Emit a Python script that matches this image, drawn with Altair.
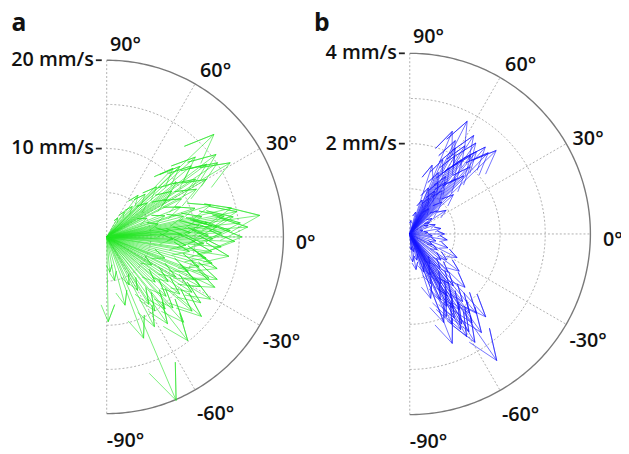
import altair as alt
import numpy as np
import pandas as pd

# ---------------- data (angle in degrees, magnitude in mm/s) ----------------
green_angle = [43.7, 31, 33.8, 46, 53, 36, 40, 38, 45, 50, 35, 42, 30, 55, 48, 28, 33, 60, 40,
               37, 32, 44, 27,
               17, 8, 0, 6, 3, -2, 10, 12, 5, -5, 1, -3, 15, 7, 2, -8, 20, 9, 4, -1, 14, 25, -10,
               -4, 2, 6, 11, -6, 3, 8, 13, -2, 5, 18, 22, -12, -16, -9,
               -21, -31, -25, -14, -41, -36, -18, -28, -33, -23, -38, -45, -52, -51, -48, -30, -20, -43, -55,
               -26, -35, -40, -22, -47, -57, -32, -60,
               -70, -89, -67, -62, -75, -58, -80, -85, -65]
green_mag = [16.8, 16.3, 15.1, 10.8, 5.9, 14.0, 12.5, 10.0, 8.0, 4.5, 9.0, 13.5, 13.0, 3.5, 6.5, 11.5, 12.0, 2.5, 6.0,
             15.5, 8.0, 11.5, 9.5,
             12.3, 17.5, 15.3, 15.2, 14.0, 14.5, 13.5, 11.0, 12.5, 13.0, 11.5, 10.0, 9.0, 10.5, 8.5, 12.0, 7.0, 14.5, 16.0, 12.0, 6.0, 5.0, 9.5,
             11.0, 13.0, 12.0, 15.0, 9.0, 9.5, 11.5, 14.5, 7.5, 7.0, 10.5, 9.0, 11.5, 13.0, 14.0,
             13.4, 13.7, 13.5, 12.3, 12.8, 8.6, 11.0, 12.0, 11.5, 10.0, 10.5, 9.5, 14.9, 10.5, 13.0, 9.0, 7.0, 7.5, 12.0,
             11.0, 13.0, 14.0, 12.5, 11.0, 10.0, 6.0, 7.0,
             12.2, 9.6, 20.1, 11.5, 8.0, 9.0, 5.0, 4.0, 6.0]

blue_angle = [63, 44, 54, 67.5, 46, 47, 33, 58, 52, 60, 56, 62, 50, 65, 55, 48, 57, 53, 45, 60, 70, 40, 66, 51, 59, 42, 35, 75, 62,
              58, 64, 49, 55, 61, 68, 53, 72, 85, 30,
              0, 10, -5, 20, 5, -9, 25, -15, 15, -20, -25,
              -55.5, -47.5, -58.8, -68.8, -37, -26.6, -84, -60, -62, -57, -55, -65, -52, -59, -63, -50, -66, -61, -54,
              -45, -58, -64, -70, -72, -48, -40, -30, -75, -56, -67, -53, -60, -78, -35,
              -57, -62, -59, -52, -65, -69, -50, -44, -80, -85]
blue_mag = [2.8, 2.66, 2.49, 2.46, 2.5, 1.76, 0.96, 2.3, 2.2, 2.0, 1.9, 2.15, 1.6, 1.5, 1.4, 2.0, 2.6, 1.2, 1.0, 1.1, 0.8, 0.8, 1.8, 2.35, 1.7, 1.3, 0.6, 0.5, 0.9,
            1.5, 2.3, 2.55, 2.0, 1.3, 1.1, 0.7, 1.6, 0.3, 0.5,
            0.77, 0.7, 0.5, 0.6, 0.4, 0.84, 0.45, 0.6, 0.3, 0.9, 0.55,
            3.4, 2.49, 2.53, 2.6, 1.37, 1.17, 0.62, 2.3, 2.1, 2.0, 2.4, 2.2, 1.9, 1.6, 1.8, 1.5, 2.0, 2.6, 2.7,
            1.2, 1.3, 1.0, 0.9, 1.5, 1.0, 0.9, 0.7, 0.6, 0.8, 1.2, 2.2, 1.9, 0.4, 1.0,
            1.7, 2.4, 2.8, 1.4, 1.6, 2.1, 2.3, 1.7, 0.8, 0.35]

angle_ticks = [90, 60, 30, 0, -30, -60, -90]
angle_labels = ["90°", "60°", "30°", "0°", "-30°", "-60°", "-90°"]
a_ticks = [10, 20]
a_tick_labels = ["10 mm/s", "20 mm/s"]
b_ticks = [2, 4]
b_tick_labels = ["2 mm/s", "4 mm/s"]

# ---------------- layout ----------------
W, H = 621, 446
FONT = "Open Sans"
panels = [
    dict(name="a", ox=100, oy=217, R=179, rmax=20, ang=green_angle, mag=green_mag,
         ticks=a_ticks, tick_labels=a_tick_labels, color="#22e622"),
    dict(name="b", ox=407, oy=220, R=183, rmax=4, ang=blue_angle, mag=blue_mag,
         ticks=b_ticks, tick_labels=b_tick_labels, color="#1414ff"),
]
HEAD_A = [0, 1, 0.8, 1, 0.8]
HEAD_B = [0, 0, 0.08, 0, -0.08]

arrow_rows, ring_rows, arc_rows, spoke_rows, tick_rows, tlab_rows, alab_rows, title_rows = ([] for _ in range(8))
for p in panels:
    ox, oy, R, rmax = p["ox"], p["oy"], p["R"], p["rmax"]
    for i, (ang, mag) in enumerate(zip(p["ang"], p["mag"])):
        th = np.radians(ang)
        s = R * mag / rmax
        for k, (a, b) in enumerate(zip(HEAD_A, HEAD_B)):
            arrow_rows.append(dict(panel=p["name"], id=f"{p['name']}{i}", k=k,
                                   x=ox + s * (a * np.cos(th) - b * np.sin(th)),
                                   y=oy + s * (a * np.sin(th) + b * np.cos(th))))
    for f in [0.25, 0.5, 0.75]:
        for j, t in enumerate(np.arange(-90, 91, 2)):
            ring_rows.append(dict(id=f"{p['name']}{f}", k=j,
                                  x=ox + f * R * np.cos(np.radians(t)),
                                  y=oy + f * R * np.sin(np.radians(t))))
    for j, t in enumerate(np.arange(-90, 91, 1)):
        arc_rows.append(dict(id=p["name"], k=j,
                             x=ox + R * np.cos(np.radians(t)), y=oy + R * np.sin(np.radians(t))))
    for t in [-60, -30, 0, 30, 60]:
        spoke_rows.append(dict(x=ox, y=oy, x2=ox + R * np.cos(np.radians(t)), y2=oy + R * np.sin(np.radians(t))))
    spoke_rows.append(dict(x=ox, y=oy - R, x2=ox, y2=oy + R))
    for v, lab in zip(p["ticks"], p["tick_labels"]):
        yy = oy + R * v / rmax
        tick_rows.append(dict(x=ox - 11, x2=ox - 5, y=yy))
        tlab_rows.append(dict(x=ox - 13, y=yy, text=lab))
    for t, lab in zip(angle_ticks, angle_labels):
        alab_rows.append(dict(x=ox + 19 + 1.02 * R * np.cos(np.radians(t)),
                              y=oy - 6 + 1.12 * R * np.sin(np.radians(t)), text=lab))
    title_rows.append(dict(x=ox - 89, y=H - 20, text=p["name"]))

xs = alt.Scale(domain=[0, W], nice=False, zero=False)
ys = alt.Scale(domain=[0, H], nice=False, zero=False)
X = lambda f="x": alt.X(f"{f}:Q", scale=xs, axis=None)
Y = lambda f="y": alt.Y(f"{f}:Q", scale=ys, axis=None)

rings = alt.Chart(pd.DataFrame(ring_rows)).mark_line(
    color="#b0b0b0", strokeWidth=1, strokeDash=[2, 2]).encode(X(), Y(), detail="id:N", order="k:Q")
spokes = alt.Chart(pd.DataFrame(spoke_rows)).mark_rule(
    color="#b0b0b0", strokeWidth=1, strokeDash=[2, 2]).encode(X(), Y(), x2="x2:Q", y2="y2:Q")
arcs = alt.Chart(pd.DataFrame(arc_rows)).mark_line(
    color="#7a7a7a", strokeWidth=1.4).encode(X(), Y(), detail="id:N", order="k:Q")
ticks = alt.Chart(pd.DataFrame(tick_rows)).mark_rule(
    color="#222222", strokeWidth=1.8).encode(X(), Y(), x2="x2:Q")

adf = pd.DataFrame(arrow_rows)
arrows = alt.Chart(adf).mark_line(strokeWidth=1, opacity=0.6).encode(
    X(), Y(), detail="id:N", order="k:Q",
    color=alt.Color("panel:N", scale=alt.Scale(domain=["a", "b"], range=[panels[0]["color"], panels[1]["color"]]),
                    legend=None))

tlabs = alt.Chart(pd.DataFrame(tlab_rows)).mark_text(
    align="right", baseline="middle", font=FONT, fontSize=20, fontWeight=600, color="#111111").encode(
    X(), Y(), text="text:N")
alabs = alt.Chart(pd.DataFrame(alab_rows)).mark_text(
    align="center", baseline="middle", font=FONT, fontSize=20, fontWeight=600, color="#111111").encode(
    X(), Y(), text="text:N")
titles = alt.Chart(pd.DataFrame(title_rows)).mark_text(
    align="center", baseline="alphabetic", font=FONT, fontSize=25, fontWeight="bold", color="#111111").encode(
    X(), Y(), text="text:N")

chart = alt.layer(rings, spokes, arcs, ticks, arrows, tlabs, alabs, titles).properties(
    width=W, height=H, padding=0, autosize="none").configure_view(stroke=None)

chart.save("out.html", embed_options={"renderer": "svg", "actions": False})
